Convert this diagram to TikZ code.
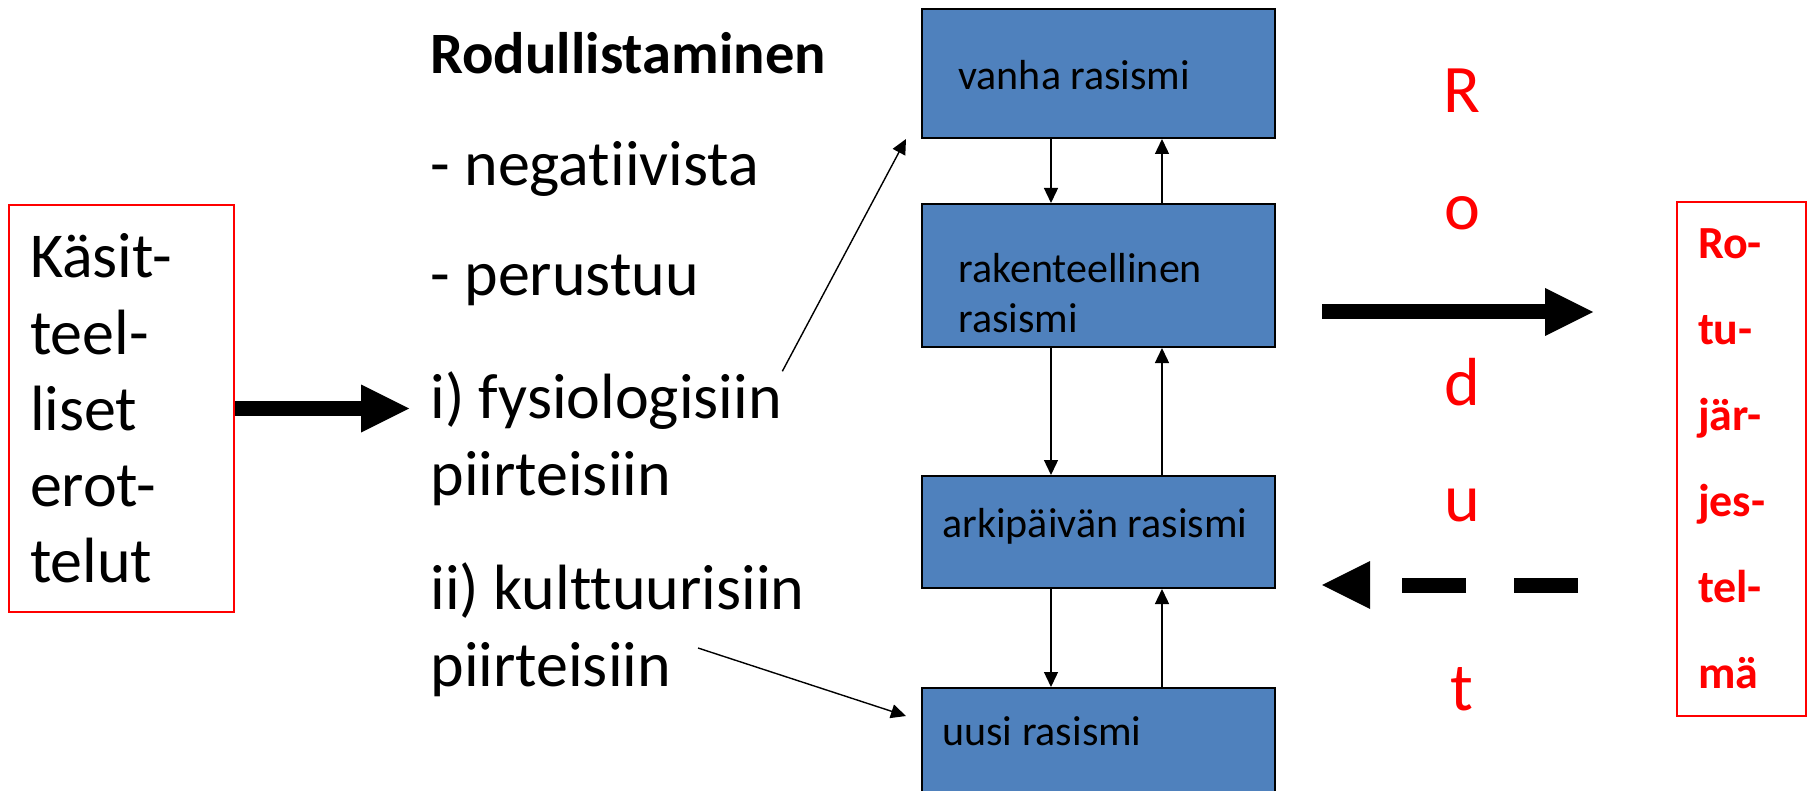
\documentclass[tikz,border=0pt]{standalone}
\usepackage{fontspec}
\setmainfont{Carlito}[Ligatures=NoCommon]
\usepackage{tikz}
\usetikzlibrary{positioning, arrows.meta}
\definecolor{boxblue}{HTML}{4F81BD}
\tikzset{
  rbox/.style={draw, line width=1pt, fill=boxblue, minimum width=176.5pt, inner sep=0pt},
  btxt/.style={font=\fontsize{21}{25}\selectfont, align=left, inner sep=0pt, anchor=base west},
  ptxt/.style={font=\fontsize{32}{38.25}\selectfont, align=left, inner sep=0pt, anchor=base west},
  redframe/.style={draw=red, line width=0.9pt, align=left},
  rlet/.style={font=\fontsize{34}{40}\selectfont, text=red, inner sep=0pt, anchor=base},
  bigflow/.style={-{Triangle[length=24pt, width=24pt, line width=0pt]}, line width=7.5pt},
  flow/.style={-{Triangle[length=7.5pt, width=7pt]}, line width=0.7pt}
}

\begin{document}
\begin{tikzpicture}[x=0.5pt, y=-0.5pt, node distance=32pt]
  \useasboundingbox (0,0) rectangle (1810,791);
  \clip (0,0) rectangle (1810,791);

  % left box
  \node[redframe, text width=91.5pt, inner xsep=10.5pt, minimum height=203.5pt,
        font=\fontsize{32}{38.1}\selectfont] (erot) at (121.5,408.5)
        {Käsit-\\teel-\\liset\\erot-\\telut};

  % middle text
  \node[font=\bfseries\fontsize{29.3}{34}\selectfont, inner sep=0pt, anchor=base west] (rodu) at (430,74) {Rodullistaminen};
  \node[ptxt] (neg) at (430,186) {- negatiivista};
  \node[ptxt] (per) at (430,296) {- perustuu};
  \node[ptxt] (fys) at (430,495) {i) fysiologisiin\\piirteisiin};
  \node[ptxt] (kult) at (430,686) {ii) kulttuurisiin\\piirteisiin};

  % rasismi boxes
  \node[rbox, minimum height=64.5pt, anchor=north west] (vanha) at (921,8) {};
  \node[rbox, minimum height=71.5pt, below=32pt of vanha] (rak) {};
  \node[rbox, minimum height=56pt, below=63.5pt of rak] (ark) {};
  \node[rbox, minimum height=64.5pt, below=49pt of ark] (uusi) {};
  \node[btxt] (vanhaT) at (958,90) {vanha rasismi};
  \node[btxt] (rakT) at (958,333) {rakenteellinen\\rasismi};
  \node[btxt] (arkT) at (942,537) {arkipäivän rasismi};
  \node[btxt] (uusiT) at (942,745) {uusi rasismi};

  \foreach \a/\b in {vanha/rak, rak/ark, ark/uusi}{
    \draw[flow] ([xshift=-23.75pt]\a.south) -- ([xshift=-23.75pt]\b.north);
    \draw[flow] ([xshift=31.75pt]\b.north) -- ([xshift=31.75pt]\a.south);
  }

  % Rodut
  \foreach \ch/\yb [count=\i] in {R/113, o/230, d/405, u/521, t/710}
    \node[rlet] (rod\i) at (1462,\yb) {\ch};

  % right box
  \node[redframe, text=red, font=\bfseries\fontsize{23}{43}\selectfont, text width=43.5pt,
        inner xsep=10.5pt, minimum height=257pt] (jarj) at (1741.5,459)
        {Ro-\\tu-\\jär-\\jes-\\tel-\\mä};

  % arrows
  \coordinate (fysIn) at (409,408.5);
  \coordinate (rodIn) at (1322,312);
  \coordinate (rodOut) at (1593,312);
  \coordinate (jarOut) at (1578,585);
  \coordinate (jarIn) at (1322,585);
  \coordinate (kultOut) at (698,648);
  \draw[bigflow] (erot) -- (fysIn);
  \draw[bigflow] (rodIn) -- (rodOut);
  \draw[bigflow, dash pattern=on 32pt off 24pt] (jarOut) -- (jarIn);
  \draw[flow] (fys.north east) -- ([xshift=-7.5pt]vanha.south west);
  \draw[flow] (kultOut) -- ([xshift=-7.5pt, yshift=-14.5pt]uusi.north west);
\end{tikzpicture}
\end{document}
